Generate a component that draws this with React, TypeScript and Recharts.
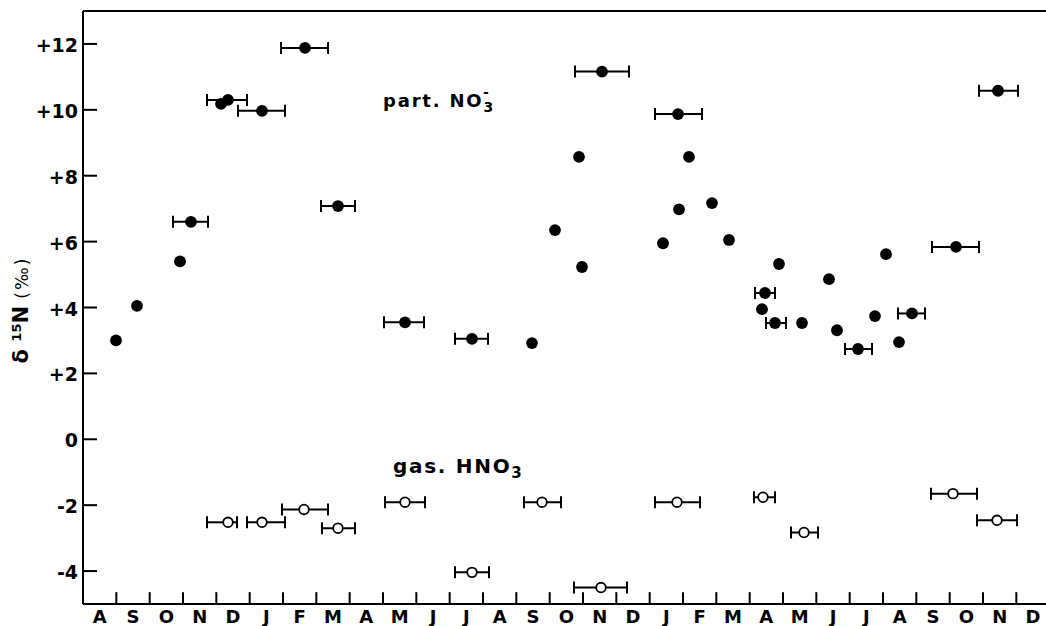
import { ScatterChart, Scatter, XAxis, YAxis, ErrorBar, ReferenceLine } from "recharts"

// month axis, x values are months counted from the start of the first August
const months = ["A", "S", "O", "N", "D", "J", "F", "M", "A", "M", "J", "J", "A", "S", "O", "N", "D", "J", "F", "M", "A", "M", "J", "J", "A", "S", "O", "N", "D"]
const yTicks = [-4, -2, 0, 2, 4, 6, 8, 10, 12]
const yTickLabels = ["-4", "-2", "0", "+2", "+4", "+6", "+8", "+10", "+12"]

// particulate nitrate (filled dots)
const partX = [0.99, 1.62, 2.91, 3.24, 4.14, 4.35, 5.37, 6.66, 7.65, 9.66, 11.67, 13.47, 14.16, 14.88, 14.97, 15.57, 17.4, 17.85, 17.88, 18.18, 18.87, 19.38, 20.37, 20.46, 20.76, 20.88, 21.57, 22.38, 22.62, 23.25, 23.76, 24.09, 24.48, 24.87, 26.19, 27.45]
const partY = [3.0, 4.05, 5.4, 6.6, 10.18, 10.3, 9.97, 11.88, 7.08, 3.55, 3.05, 2.92, 6.35, 8.57, 5.23, 11.16, 5.95, 9.87, 6.98, 8.57, 7.17, 6.05, 3.95, 4.44, 3.53, 5.32, 3.53, 4.86, 3.31, 2.74, 3.74, 5.62, 2.95, 3.82, 5.84, 10.58]
const partLo = [null, null, null, 2.7, null, 3.72, 4.65, 5.94, 7.14, 9.03, 11.16, null, null, null, null, 14.76, null, 17.16, null, null, null, null, null, 20.16, 20.49, null, null, null, null, 22.86, null, null, null, 24.45, 25.47, 26.88]
const partHi = [null, null, null, 3.75, null, 4.92, 6.06, 7.35, 8.16, 10.23, 12.15, null, null, null, null, 16.38, null, 18.57, null, null, null, null, null, 20.76, 21.09, null, null, null, null, 23.67, null, null, null, 25.26, 26.88, 28.05]

// gaseous HNO3 (open dots)
const gasX = [4.35, 5.37, 6.63, 7.65, 9.66, 11.67, 13.77, 15.54, 17.82, 20.4, 21.63, 26.1, 27.42]
const gasY = [-2.52, -2.52, -2.13, -2.7, -1.91, -4.04, -1.91, -4.5, -1.91, -1.76, -2.83, -1.65, -2.46]
const gasLo = [3.72, 4.92, 5.97, 7.17, 9.06, 11.16, 13.23, 14.73, 17.16, 20.13, 21.24, 25.44, 26.82]
const gasHi = [4.62, 6.06, 7.35, 8.16, 10.26, 12.18, 14.34, 16.32, 18.51, 20.76, 22.05, 26.82, 28.02]

const toRows = (xs: number[], ys: number[], lo: (number | null)[], hi: (number | null)[]) =>
  xs.map((x, i) => ({
    x,
    y: ys[i],
    xErr: lo[i] == null || hi[i] == null ? undefined : [x - (lo[i] as number), (hi[i] as number) - x],
  }))

const partData = toRows(partX, partY, partLo, partHi)
const gasData = toRows(gasX, gasY, gasLo, gasHi)

const monthCenters = months.map((_, i) => i + 0.5)
const monthBounds = months.slice(1).map((_, i) => i + 1)

const FONT = "'DejaVu Sans', 'Liberation Sans', sans-serif"

const YTick = (props: any) => {
  const { x, y, index } = props
  return (
    <g>
      <line x1={x} x2={x + 14} y1={y} y2={y} stroke="#000" strokeWidth={2} />
      <text x={x - 5} y={y + 1} textAnchor="end" dominantBaseline="central" fontFamily={FONT} fontWeight="bold" fontSize={19} fill="#000">
        {yTickLabels[index]}
      </text>
    </g>
  )
}

const XTick = (props: any) => {
  const { x, y, index } = props
  return (
    <text x={x} y={y + 19} textAnchor="middle" fontFamily={FONT} fontWeight="bold" fontSize={18} fill="#000">
      {months[index]}
    </text>
  )
}

const FilledDot = (props: any) => <circle cx={props.cx} cy={props.cy} r={5.9} fill="#000" />
const OpenDot = (props: any) => <circle cx={props.cx} cy={props.cy} r={4.8} fill="#fff" stroke="#000" strokeWidth={1.8} />

export default function App() {
  return (
    <div style={{ position: "absolute", left: 0, top: 0, width: 1046, height: 626, background: "#fff", overflow: "hidden" }}>
      <ScatterChart width={1046} height={626} margin={{ top: 11, right: 0, bottom: 0, left: 0 }}>
        <XAxis
          type="number"
          dataKey="x"
          domain={[0, 28.89]}
          allowDataOverflow
          ticks={monthCenters}
          interval={0}
          tick={<XTick />}
          tickLine={false}
          tickSize={0}
          tickMargin={0}
          height={22}
          axisLine={{ stroke: "#000", strokeWidth: 2 }}
        />
        <YAxis
          type="number"
          dataKey="y"
          domain={[-5, 13]}
          ticks={yTicks}
          interval={0}
          tick={<YTick />}
          tickLine={false}
          tickSize={0}
          tickMargin={0}
          width={83}
          axisLine={{ stroke: "#000", strokeWidth: 2 }}
        />
        <ReferenceLine y={13} stroke="#000" strokeWidth={2} ifOverflow="visible" />
        {monthBounds.map((b) => (
          <ReferenceLine
            key={b}
            segment={[{ x: b, y: -5 }, { x: b, y: -4.64 }]}
            stroke="#000"
            strokeWidth={2}
            ifOverflow="visible"
          />
        ))}
        <Scatter data={partData} shape={<FilledDot />} isAnimationActive={false}>
          <ErrorBar dataKey="xErr" direction="x" width={6} stroke="#000" strokeWidth={2} isAnimationActive={false} />
        </Scatter>
        <Scatter data={gasData} shape={<OpenDot />} isAnimationActive={false}>
          <ErrorBar dataKey="xErr" direction="x" width={6} stroke="#000" strokeWidth={2} isAnimationActive={false} />
        </Scatter>
      </ScatterChart>
      <svg width={1046} height={626} style={{ position: "absolute", left: 0, top: 0, pointerEvents: "none" }}>
        <text x={383} y={107} fontFamily={FONT} fontWeight="bold" fontSize={18} letterSpacing={1.8} fill="#000">
          part. NO<tspan fontSize={14} dy={5}>3</tspan>
          <tspan fontSize={14} dx={-12} dy={-15}>-</tspan>
        </text>
        <text x={393} y={473} fontFamily={FONT} fontWeight="bold" fontSize={20} letterSpacing={1.7} fill="#000">
          gas. HNO<tspan fontSize={15} dy={5}>3</tspan>
        </text>
        <text transform="translate(28, 310) rotate(-90)" textAnchor="middle" fontFamily={FONT} fill="#000">
          <tspan fontWeight="bold" fontSize={21}>δ </tspan>
          <tspan fontWeight="bold" fontSize={13} dy={-7}>15</tspan>
          <tspan fontWeight="bold" fontSize={21} dy={7}>N </tspan>
          <tspan fontSize={17} letterSpacing={2}>(‰)</tspan>
        </text>
      </svg>
    </div>
  )
}
